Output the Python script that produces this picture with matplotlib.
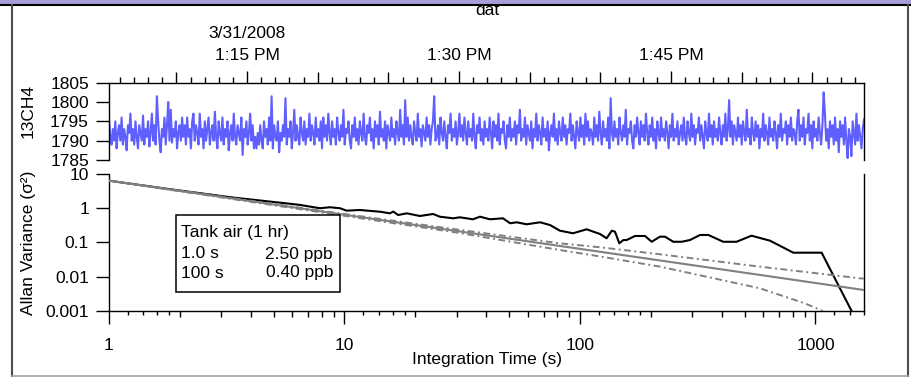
import numpy as np
import pandas as pd
import matplotlib
matplotlib.use('Agg')
import matplotlib.pyplot as plt
import matplotlib.dates as mdates
from matplotlib.ticker import FixedLocator, NullLocator, NullFormatter
from matplotlib.patches import Rectangle

plt.rcParams['font.family'] = ['Liberation Sans', 'DejaVu Sans']
FS = 12.5

# ---------------- data ----------------
t_start = '2008-03-31 13:05:14'
t_end = '2008-03-31 13:58:39'
ch4 = [
    1795.5, 1791, 1789, 1793, 1790, 1795, 1788, 1792, 1794, 1790, 1796, 1789, 1793, 1791, 1787.5, 1794, 1792, 1797, 1790, 1793,
    1789, 1795, 1791, 1788, 1794, 1792, 1790, 1796.5, 1789, 1793, 1791, 1795, 1788.5, 1792, 1797, 1790, 1794, 1789, 1801.5, 1795,
    1790, 1787, 1793, 1791, 1796, 1789, 1794, 1800, 1790, 1798, 1789.5, 1793, 1791, 1795, 1788, 1792, 1794, 1790, 1796, 1791,
    1794, 1789, 1796, 1791, 1793, 1788, 1795, 1797, 1790, 1794, 1792, 1789, 1797, 1791, 1793, 1788, 1795, 1790, 1793, 1796,
    1789, 1792, 1794, 1790, 1797.5, 1791, 1788, 1795, 1792, 1790, 1796, 1789, 1793, 1791, 1795, 1787.5, 1792, 1794, 1790, 1797,
    1791, 1789, 1794, 1792, 1790, 1796, 1786.3, 1793, 1791, 1795, 1789, 1792, 1797, 1790, 1794, 1788, 1791, 1788, 1792, 1789,
    1794, 1790, 1788, 1795, 1791, 1793, 1789, 1796, 1790, 1801.5, 1788, 1794, 1791, 1790, 1795, 1787, 1792, 1790, 1794, 1791,
    1801, 1789, 1793, 1791, 1795, 1788, 1792, 1798, 1790, 1794, 1791, 1789, 1796, 1792, 1790, 1795, 1789, 1793, 1791, 1797,
    1790, 1794, 1792, 1789, 1796, 1791, 1793, 1790, 1795, 1788, 1796, 1791, 1794, 1790, 1797, 1792, 1789, 1795, 1791, 1793,
    1789, 1796, 1792, 1790, 1794, 1791, 1798, 1789, 1793, 1792, 1795, 1790, 1788, 1794, 1791, 1796, 1790, 1793, 1789, 1795,
    1792, 1790, 1797, 1791, 1789, 1794, 1792, 1796, 1790, 1793, 1788, 1795, 1791, 1794, 1789, 1797.5, 1791, 1793, 1790, 1795,
    1788, 1794, 1792, 1790, 1796, 1791, 1793, 1789, 1795, 1792, 1790, 1798, 1791, 1794, 1789, 1800.5, 1791, 1796, 1790, 1794,
    1791, 1789, 1795, 1792, 1790, 1797, 1791, 1793, 1788.5, 1794, 1792, 1790, 1796, 1791, 1794, 1789, 1793, 1795, 1801.5, 1790,
    1791, 1794, 1789, 1796, 1792, 1790, 1795, 1791, 1788, 1794, 1792, 1797, 1790, 1793, 1791, 1795, 1789, 1792, 1797, 1791,
    1794, 1790, 1796, 1792, 1789, 1795, 1791, 1793, 1790, 1797, 1791, 1788, 1794, 1792, 1796, 1790, 1793, 1789, 1795, 1791,
    1793, 1790, 1796, 1792, 1788, 1795, 1791, 1794, 1790, 1797, 1789, 1793, 1792, 1795, 1790, 1788, 1794, 1791, 1796, 1790,
    1793, 1791, 1795, 1789, 1794, 1792, 1798, 1790, 1793, 1791, 1796, 1789, 1794, 1792, 1790, 1795, 1788, 1793, 1791, 1797,
    1790, 1794, 1792, 1789, 1796, 1791, 1793, 1790, 1795, 1787.5, 1792, 1794, 1791, 1797, 1790, 1793, 1789, 1795, 1792, 1790,
    1796, 1791, 1794, 1789, 1793, 1792, 1797, 1790, 1794, 1791, 1788, 1795, 1792, 1790, 1796, 1791, 1794, 1789, 1797, 1791,
    1795, 1790, 1793, 1792, 1789, 1796, 1791, 1794, 1790, 1797.5, 1792, 1789, 1795, 1791, 1793, 1790, 1796, 1788, 1801, 1792,
    1790, 1795, 1791, 1793, 1789, 1796, 1792, 1790, 1794, 1791, 1798, 1789, 1793, 1792, 1795, 1790, 1788, 1794, 1791, 1796,
    1792, 1789, 1795, 1791, 1794, 1790, 1797, 1792, 1789, 1794, 1791, 1796, 1790, 1793, 1788, 1795, 1792, 1790, 1796, 1791,
    1793, 1790, 1795, 1792, 1788, 1794, 1791, 1797, 1790, 1793, 1791, 1795, 1789, 1792, 1794, 1790, 1796, 1791, 1789, 1795,
    1792, 1790, 1797, 1791, 1794, 1789, 1793, 1792, 1796, 1790, 1794, 1791, 1788, 1795, 1792, 1790, 1797, 1791, 1794, 1789,
    1795, 1791, 1793, 1790, 1796, 1792, 1789, 1794, 1791, 1797, 1790, 1793, 1800.5, 1791, 1795, 1789, 1794, 1792, 1790, 1796,
    1791, 1794, 1789, 1795, 1792, 1790, 1798, 1791, 1793, 1789, 1796, 1792, 1790, 1795, 1791, 1794, 1788, 1793, 1791, 1797,
    1790, 1794, 1792, 1789, 1796, 1791, 1793, 1790, 1795, 1792, 1788, 1794, 1791, 1797, 1790, 1793, 1792, 1795, 1789, 1794,
    1791, 1796, 1790, 1793, 1792, 1789, 1795, 1798, 1790, 1794, 1791, 1796, 1789, 1793, 1792, 1797, 1790, 1794, 1788, 1795,
    1791, 1793, 1790, 1796, 1792, 1789, 1794, 1802.5, 1797, 1790, 1793, 1788, 1795, 1791, 1794, 1789, 1796, 1790, 1793, 1787,
    1795, 1791, 1794, 1789, 1796, 1790, 1785.5, 1793, 1791, 1786, 1795, 1792, 1789, 1797, 1790, 1794, 1791, 1788, 1793, 1795.5,
]

tau_meas = [1, 1.76, 3.37, 5.50, 6.47, 7.87, 8.68, 9.57, 10.2, 11.6,
            14.2, 15.6, 16.1, 16.9, 18.4, 20.9, 23.8, 25.4, 28.9, 30.9,
            35.1, 37.6, 41.5, 47.1, 50.5, 53.8, 59.4, 67.7, 74.6, 82.2,
            93.4, 106.7, 121.6, 129.8, 136.4, 140.8, 146.9, 152.8, 157.8, 171.3,
            188.8, 201.6, 218.6, 229.6, 249, 270, 293, 323.5, 350.7, 405.9,
            462, 535, 641, 805, 1062, 1429]
avar_meas = [6.4, 3.7, 2.05, 1.42, 1.25, 1.0, 1.07, 1.0, 0.85, 0.89,
             0.79, 0.71, 0.80, 0.635, 0.71, 0.594, 0.68, 0.567, 0.509, 0.544,
             0.476, 0.567, 0.476, 0.509, 0.364, 0.389, 0.340, 0.389, 0.324, 0.221,
             0.186, 0.243, 0.177, 0.133, 0.221, 0.207, 0.0947, 0.118, 0.118, 0.155,
             0.155, 0.105, 0.148, 0.148, 0.105, 0.105, 0.118, 0.166, 0.166, 0.105,
             0.105, 0.158, 0.113, 0.0504, 0.0504, 0.00095]

tau_fit = [1, 1607]
avar_fit = [6.4, 0.0041]

tau_upper = [1, 10, 30, 82, 122, 219, 581, 1545, 1607]
avar_upper = [6.4, 0.68, 0.24, 0.0947, 0.0724, 0.0452, 0.0197, 0.0090, 0.0088]

tau_lower = [1, 10, 30, 82, 122, 219, 581, 900, 1076]
avar_lower = [6.4, 0.60, 0.195, 0.0604, 0.039, 0.0197, 0.0046, 0.00168, 0.001]

yticks_ch4 = [1785, 1790, 1795, 1800, 1805]
yticks_av = [10, 1, 0.1, 0.01, 0.001]
yticklabels_av = ['10', '1', '0.1', '0.01', '0.001']
xticks_tau = [1, 10, 100, 1000]
xticklabels_tau = ['1', '10', '100', '1000']
xminor_tau = [2, 3, 4, 5, 6, 7, 8, 9, 20, 30, 40, 50, 60, 70, 80, 90,
              200, 300, 400, 500, 600, 700, 800, 900]
xsub_tau = [1.2, 1.4, 1.6, 1.8, 12, 14, 16, 18, 120, 140, 160, 180, 1200, 1400, 1600]

legend_title = 'Tank air (1 hr)'
legend_rows = [('1.0 s', '2.50 ppb'), ('100 s', '0.40 ppb')]

# ---------------- figure ----------------
W, H = 912, 377
fig = plt.figure(figsize=(W / 100, H / 100), dpi=100)

def px_rect(x0, y0, x1, y1):
    return [x0 / W, (H - y1) / H, (x1 - x0) / W, (y1 - y0) / H]

# ---- top panel ----
pos_top = px_rect(109, 82.7, 864, 160)
ax1 = fig.add_axes(pos_top)
times = pd.date_range(t_start, t_end, periods=len(ch4))
ax1.plot(times, ch4, color='#5f5fff', lw=1.5)
t0 = mdates.date2num(pd.Timestamp(t_start))
t1 = mdates.date2num(pd.Timestamp(t_end))
ax1.set_xlim(t0, t1)
ax1.set_ylim(1785, 1805)
for s in ['top', 'left', 'right']:
    ax1.spines[s].set_linewidth(1.0)
ax1.spines['bottom'].set_visible(False)

maj_loc = mdates.MinuteLocator(byminute=[15, 30, 45])
maj_ticks = maj_loc.tick_values(pd.Timestamp(t_start).to_pydatetime(), pd.Timestamp(t_end).to_pydatetime())
maj_ticks = [t for t in maj_ticks if t0 <= t <= t1]
labels = []
for i, t in enumerate(maj_ticks):
    d = mdates.num2date(t)
    hh = d.hour - 12 if d.hour > 12 else d.hour
    lab = f"{hh}:{d.minute:02d} PM"
    if i == 0:
        lab = f"{d.month}/{d.day}/{d.year}\n" + lab
    labels.append(lab)
ax1.set_xticks(maj_ticks, labels, fontsize=FS, linespacing=1.55)
ax1.xaxis.set_minor_locator(mdates.MinuteLocator(byminute=list(range(0, 60, 5))))
ax1.xaxis.set_minor_formatter(NullFormatter())
ax1.tick_params(axis='x', which='both', top=True, bottom=False, labeltop=True,
                labelbottom=False, direction='out')
ax1.tick_params(axis='x', which='major', length=9, width=1.0, pad=5.5)
ax1.tick_params(axis='x', which='minor', length=7.7, width=1.0)
ax1.set_yticks(yticks_ch4)
ax1.set_yticklabels([str(v) for v in yticks_ch4], fontsize=FS)
ax1.tick_params(axis='y', which='major', length=9.4, width=1.0, pad=5, direction='out')
ax1.tick_params(axis='y', which='minor', left=False, right=False)

# helper axes for 1-minute ticks
ax1b = fig.add_axes(pos_top, facecolor='none')
ax1b.set_xlim(t0, t1)
ax1b.xaxis.set_major_locator(mdates.MinuteLocator(byminute=[m for m in range(60) if m % 5]))
ax1b.xaxis.set_major_formatter(NullFormatter())
ax1b.tick_params(axis='x', top=True, bottom=False, labeltop=False, labelbottom=False,
                 length=4.1, width=1.0, direction='out')
ax1b.set_yticks([])
for s in ax1b.spines.values():
    s.set_visible(False)

# ---- bottom panel ----
pos_bot = px_rect(109, 174, 864, 311)
ax2 = fig.add_axes(pos_bot)
ax2.plot(tau_meas, avar_meas, color='black', lw=1.5, zorder=2)
ax2.plot(tau_upper, avar_upper, color='#808080', lw=1.4, dashes=[3.5, 1.8, 1.0, 1.8], zorder=3)
ax2.plot(tau_lower, avar_lower, color='#808080', lw=1.4, dashes=[3.5, 1.8, 1.0, 1.8], zorder=3)
ax2.plot(tau_fit, avar_fit, color='#808080', lw=1.5, zorder=3)
ax2.set_xscale('log')
ax2.set_yscale('log')
ax2.set_xlim(1, 1607)
ax2.set_ylim(0.001, 10)
ax2.spines['top'].set_visible(False)
for s in ['bottom', 'left', 'right']:
    ax2.spines[s].set_linewidth(1.0)
ax2.xaxis.set_major_locator(FixedLocator(xticks_tau))
ax2.set_xticklabels(xticklabels_tau, fontsize=FS)
ax2.xaxis.set_minor_locator(FixedLocator(xminor_tau))
ax2.xaxis.set_minor_formatter(NullFormatter())
ax2.tick_params(axis='x', which='major', length=9, width=1.0, pad=10.5, direction='out')
ax2.tick_params(axis='x', which='minor', length=4.3, width=1.0, direction='out')
ax2.yaxis.set_major_locator(FixedLocator(yticks_av))
ax2.set_yticklabels(yticklabels_av, fontsize=FS)
ax2.yaxis.set_minor_locator(NullLocator())
ax2.tick_params(axis='y', which='major', length=9.4, width=1.0, pad=5, direction='out')

ax2b = fig.add_axes(pos_bot, facecolor='none')
ax2b.set_xscale('log')
ax2b.set_xlim(1, 1607)
ax2b.xaxis.set_major_locator(FixedLocator(xsub_tau))
ax2b.xaxis.set_major_formatter(NullFormatter())
ax2b.xaxis.set_minor_locator(NullLocator())
ax2b.tick_params(axis='x', length=2.6, width=1.0, direction='out')
ax2b.set_yticks([])
for s in ax2b.spines.values():
    s.set_visible(False)

# legend box
lx0, lx1 = (176 - 109) / 755, (340 - 109) / 755
ly0, ly1 = (311 - 292) / 137, (311 - 215) / 137
ax2.add_patch(Rectangle((lx0, ly0), lx1 - lx0, ly1 - ly0, transform=ax2.transAxes,
                        facecolor='white', edgecolor='black', lw=1.1, zorder=5))
tx_l = (181 - 109) / 755
tx_r = (333 - 109) / 755
ax2.text(tx_l, (311 - 233) / 137, legend_title, transform=ax2.transAxes,
         ha='left', va='center', fontsize=FS, zorder=6)
for (a, b), ypx in zip(legend_rows, [254, 273]):
    yy = (311 - ypx) / 137
    ax2.text(tx_l, yy, a, transform=ax2.transAxes, ha='left', va='center', fontsize=FS, zorder=6)
    ax2.text(tx_r, yy, b, transform=ax2.transAxes, ha='right', va='center', fontsize=FS, zorder=6)

# axis titles
fig.text(28.5 / W, (H - 111) / H, '13CH4', rotation=90, ha='center', va='center', fontsize=FS)
fig.text(29 / W, (H - 243) / H, 'Allan Variance (σ²)', rotation=90, ha='center', va='center', fontsize=FS)
fig.text(487 / W, (H - 364) / H, 'Integration Time (s)', ha='center', va='baseline', fontsize=FS)
fig.text(487 / W, (H - 15) / H, 'dat', ha='center', va='baseline', fontsize=FS)

# window frame decoration
axf = fig.add_axes([0, 0, 1, 1], facecolor='none', zorder=10)
axf.set_xlim(0, W)
axf.set_ylim(H, 0)
axf.axis('off')
axf.add_patch(Rectangle((0, 0), W, 4.3, facecolor='#a69fd9', edgecolor='none'))
axf.plot([0, W], [4.9, 4.9], color='black', lw=1.5)
axf.plot([12, 12], [5, H], color='#4d4d4d', lw=1.5)
axf.plot([908, 908], [5, H], color='#4d4d4d', lw=1.5)
axf.plot([12, 908], [375.5, 375.5], color='#a0a0a0', lw=1.2)

fig.savefig('out.png', dpi=100)
